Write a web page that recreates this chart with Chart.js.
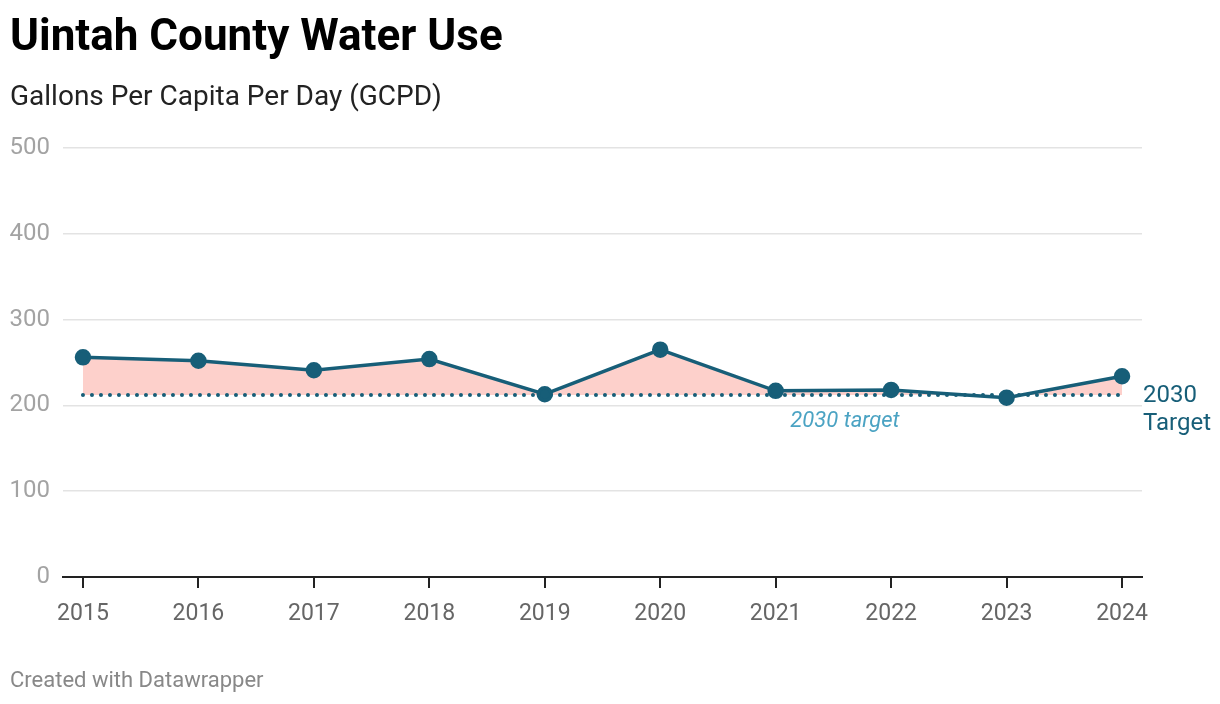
<!DOCTYPE html>
<html>
<head>
<meta charset="utf-8">
<script src="https://cdn.jsdelivr.net/npm/chart.js@4"></script>
<style>
  body { margin: 0; background: #fff; font-family: Roboto, sans-serif; }
  #wrap { position: relative; width: 1220px; height: 704px; }
  #myChart { position: absolute; left: 0; top: 0; }
  .txt { position: absolute; left: 10px; white-space: nowrap; }
  #title { top: 13px; font-size: 44px; line-height: 44px; font-weight: 700; color: #000; }
  #subtitle { top: 82px; font-size: 28px; line-height: 28px; color: #222; }
  #footer { top: 669px; font-size: 22px; line-height: 22px; color: #888; }
</style>
</head>
<body>
<div id="wrap">
  <canvas id="myChart" width="1220" height="704"></canvas>
  <div class="txt" id="title">Uintah County Water Use</div>
  <div class="txt" id="subtitle">Gallons Per Capita Per Day (GCPD)</div>
  <div class="txt" id="footer">Created with Datawrapper</div>
</div>
<script>
var years = [2015, 2016, 2017, 2018, 2019, 2020, 2021, 2022, 2023, 2024]
var gcpd = [256, 252, 241, 254, 213, 265, 217, 218, 209, 234]
var target = 212
var yTicks = [0, 100, 200, 300, 400, 500]

var lineColor = "#175e78"

// text drawn next to the target line
var labels = {
  id: 'labels',
  afterDraw: function(chart) {
    var c = chart.ctx
    var x = chart.scales.x, y = chart.scales.y
    var ty = y.getPixelForValue(target)
    c.save()
    c.font = "italic 22px Roboto"
    c.fillStyle = "#4ba3c3"
    c.textAlign = "center"
    c.textBaseline = "middle"
    c.fillText("2030 target", x.getPixelForValue(2021.6), ty + 26)
    c.font = "24px Roboto"
    c.fillStyle = lineColor
    c.textAlign = "left"
    c.fillText("2030", chart.chartArea.right + 1, ty + 1)
    c.fillText("Target", chart.chartArea.right + 1, ty + 29)
    c.restore()
  }
}

ctx = document.getElementById("myChart")
var myChart = new Chart(ctx, {
  type: 'line',
  data: {
    datasets: [
      {
        data: years.map(function(yr, i) { return {x: yr, y: gcpd[i]} }),
        borderColor: lineColor,
        borderWidth: 3.5,
        pointBackgroundColor: lineColor,
        pointBorderColor: lineColor,
        pointRadius: 6.5,
        tension: 0,
        fill: {target: 1, above: "#fdd0cb", below: "rgba(0,0,0,0)"}
      },
      {
        data: [{x: years[0], y: target}, {x: years[years.length - 1], y: target}],
        borderColor: lineColor,
        borderWidth: 4,
        borderDash: [0, 9],
        borderCapStyle: 'round',
        pointRadius: 0,
        fill: false
      }
    ]
  },
  options: {
    responsive: false,
    animation: false,
    layout: {padding: {top: 148, right: 78, bottom: 67, left: 0}},
    plugins: {
      legend: {display: false},
      tooltip: {enabled: false},
      filler: {drawTime: 'beforeDatasetsDraw'}
    },
    scales: {
      x: {
        type: 'linear',
        min: 2014.827,
        max: 2024.173,
        afterBuildTicks: function(scale) {
          scale.ticks = years.map(function(v) { return {value: v} })
        },
        afterFit: function(scale) { scale.height = 60 },
        grid: {drawOnChartArea: false, tickLength: 11, color: "#222", lineWidth: 2},
        border: {display: true, color: "#222", width: 2},
        ticks: {
          padding: 12,
          color: "#666",
          font: {family: "Roboto", size: 23},
          callback: function(v) { return String(v) }
        }
      },
      y: {
        min: 0,
        max: 500,
        afterBuildTicks: function(scale) {
          scale.ticks = yTicks.map(function(v) { return {value: v} })
        },
        afterFit: function(scale) { scale.width = 63 },
        grid: {color: "#e3e3e3", lineWidth: 1.5, drawTicks: false},
        border: {display: false},
        ticks: {
          padding: 13,
          color: "#a3a3a3",
          font: {family: "Roboto", size: 24}
        }
      }
    }
  },
  plugins: [labels]
});
</script>
</body>
</html>
